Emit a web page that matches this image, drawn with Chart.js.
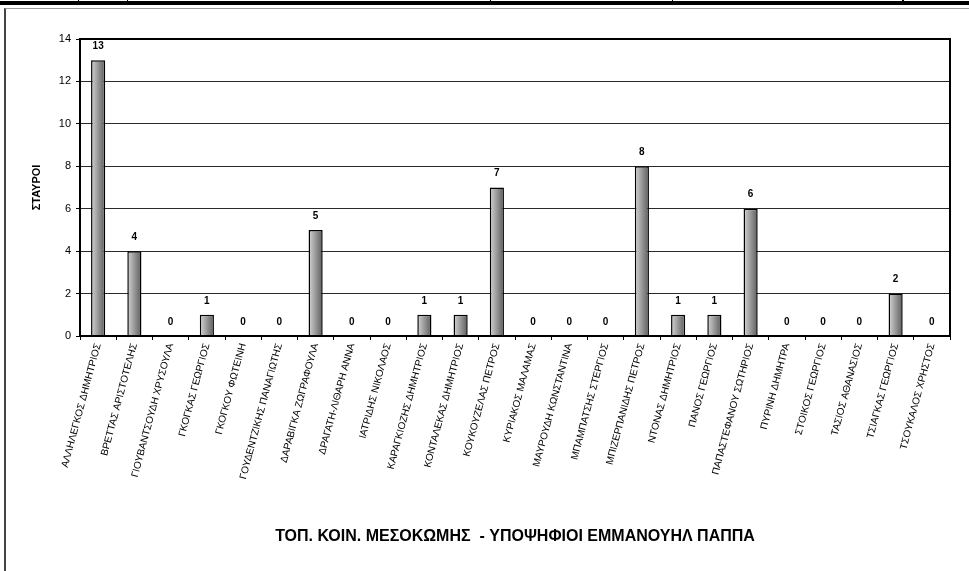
<!DOCTYPE html>
<html>
<head>
<meta charset="utf-8">
<script src="https://cdn.jsdelivr.net/npm/chart.js@4/dist/chart.umd.min.js"></script>
<style>
  body { margin: 0; background: #fff; width: 969px; height: 571px; overflow: hidden; position: relative; }
  .top-bar { position: absolute; left: 0; top: 1px; width: 969px; height: 4px; background: #000; }
  .top-tick { position: absolute; top: 0; width: 1px; height: 2px; background: #000; }
  .frame { position: absolute; left: 4px; top: 8px; width: 980px; height: 580px; border-left: 2px solid #444; border-top: 1px solid #999; }
  #chart-box { position: absolute; left: 6px; top: 10px; width: 963px; height: 561px; }
</style>
</head>
<body>
<div class="top-bar"></div>
<div class="top-tick" style="left:78px"></div>
<div class="top-tick" style="left:127px"></div>
<div class="top-tick" style="left:490px"></div>
<div class="top-tick" style="left:672px"></div>
<div class="top-tick" style="left:902px; width:2px"></div>
<div class="frame"></div>
<div id="chart-box"><canvas id="chart-canvas"></canvas></div>

<script>
/* -------------  DATA  ------------- */

const candidates = [
  'ΑΛΛΗΛΕΓΚΟΣ ΔΗΜΗΤΡΙΟΣ', 'ΒΡΕΤΤΑΣ ΑΡΙΣΤΟΤΕΛΗΣ', 'ΓΙΟΥΒΑΝΤΣΟΥΔΗ ΧΡΥΣΟΥΛΑ', 'ΓΚΟΓΚΑΣ ΓΕΩΡΓΙΟΣ',
  'ΓΚΟΓΚΟΥ ΦΩΤΕΙΝΗ', 'ΓΟΥΔΕΝΤΖΙΚΗΣ ΠΑΝΑΓΙΩΤΗΣ', 'ΔΑΡΑΒΙΓΚΑ ΖΩΓΡΑΦΟΥΛΑ', 'ΔΡΑΓΑΤΗ-ΛΙΘΑΡΗ ΑΝΝΑ',
  'ΙΑΤΡΙΔΗΣ ΝΙΚΟΛΑΟΣ', 'ΚΑΡΑΓΚΙΟΖΗΣ ΔΗΜΗΤΡΙΟΣ', 'ΚΟΝΤΑΛΕΚΑΣ ΔΗΜΗΤΡΙΟΣ', 'ΚΟΥΚΟΥΖΕΛΑΣ ΠΕΤΡΟΣ',
  'ΚΥΡΙΑΚΟΣ ΜΑΛΑΜΑΣ', 'ΜΑΥΡΟΥΔΗ ΚΩΝΣΤΑΝΤΙΝΑ', 'ΜΠΑΜΠΑΤΣΗΣ ΣΤΕΡΓΙΟΣ', 'ΜΠΙΖΕΡΠΑΝΙΔΗΣ ΠΕΤΡΟΣ',
  'ΝΤΟΝΑΣ ΔΗΜΗΤΡΙΟΣ', 'ΠΑΝΟΣ ΓΕΩΡΓΙΟΣ', 'ΠΑΠΑΣΤΕΦΑΝΟΥ ΣΩΤΗΡΙΟΣ', 'ΠΥΡΙΝΗ ΔΗΜΗΤΡΑ',
  'ΣΤΟΙΚΟΣ ΓΕΩΡΓΙΟΣ', 'ΤΑΣΙΟΣ ΑΘΑΝΑΣΙΟΣ', 'ΤΣΙΑΓΚΑΣ ΓΕΩΡΓΙΟΣ', 'ΤΣΟΥΚΑΛΟΣ ΧΡΗΣΤΟΣ'
];
const votes = [13, 4, 0, 1, 0, 0, 5, 0, 0, 1, 1, 7, 0, 0, 0, 8, 1, 1, 6, 0, 0, 0, 2, 0];

const yMin = 0;
const yMax = 14;
const yStep = 2;

const xTitle = 'ΤΟΠ. ΚΟΙΝ. ΜΕΣΟΚΩΜΗΣ  - ΥΠΟΨΗΦΙΟΙ ΕΜΜΑΝΟΥΗΛ ΠΑΠΠΑ';
const yTitle = 'ΣΤΑΥΡΟΙ';

const barPct = 0.39;
const fontFamily = "'Liberation Sans', Arial, sans-serif";

/* -------------  CHART  ------------- */

/**
 * Horizontal grey gradient for every bar, light on the left, dark on the right.
 */
function barGradient(context) {
  const chart = context.chart;
  if (!chart.chartArea || context.type !== 'data') return '#999';
  const xScale = chart.scales.x;
  const center = xScale.getPixelForValue(context.dataIndex);
  const half = (xScale.width / candidates.length) * barPct / 2;
  const g = chart.ctx.createLinearGradient(center - half, 0, center + half, 0);
  g.addColorStop(0, '#d4d4d4');
  g.addColorStop(1, '#5c5c5c');
  return g;
}

/**
 * Writes the value above each bar and frames the plot area.
 */
const valueLabels = {
  id: 'valueLabels',
  afterDatasetsDraw(chart) {
    const ctx = chart.ctx;
    const meta = chart.getDatasetMeta(0);
    ctx.save();
    ctx.font = 'bold 10px ' + fontFamily;
    ctx.fillStyle = '#000';
    ctx.textAlign = 'center';
    ctx.textBaseline = 'middle';
    meta.data.forEach((bar, i) => {
      ctx.fillText(String(votes[i]), bar.x, bar.y - 14);
    });
    const a = chart.chartArea;
    ctx.strokeStyle = '#000';
    ctx.lineWidth = 2;
    ctx.strokeRect(a.left, a.top, a.right - a.left, a.bottom - a.top);
    ctx.restore();
  }
};

Chart.defaults.font.family = fontFamily;
Chart.defaults.color = '#000';

new Chart(document.getElementById('chart-canvas'), {
  type: 'bar',
  data: {
    labels: candidates,
    datasets: [{
      data: votes,
      backgroundColor: barGradient,
      borderColor: '#000',
      borderWidth: 1.5,
      barPercentage: barPct,
      categoryPercentage: 1
    }]
  },
  options: {
    responsive: true,
    maintainAspectRatio: false,
    animation: false,
    layout: { padding: { left: 0, right: 19, top: 29, bottom: 0 } },
    plugins: {
      legend: { display: false },
      tooltip: { enabled: false }
    },
    scales: {
      x: {
        afterFit: (scale) => { scale.height = 235; },
        grid: { drawOnChartArea: false, drawTicks: true, tickLength: 4, color: '#000' },
        border: { display: false },
        ticks: { autoSkip: false, minRotation: 75, maxRotation: 75, font: { size: 10 }, padding: 2 },
        title: {
          display: true,
          text: xTitle,
          font: { size: 16, weight: 'bold' },
          padding: { top: 0, bottom: 25 }
        }
      },
      y: {
        min: yMin,
        max: yMax,
        afterFit: (scale) => { scale.width = 74; },
        grid: { color: '#2a2a2a', lineWidth: 1, tickLength: 4, tickColor: '#000' },
        border: { display: false },
        ticks: { stepSize: yStep, font: { size: 11 }, padding: 5 },
        title: {
          display: true,
          text: yTitle,
          font: { size: 11, weight: 'bold' },
          padding: { top: 24.4, bottom: 0 }
        }
      }
    }
  },
  plugins: [valueLabels]
});
</script>
</body>
</html>
